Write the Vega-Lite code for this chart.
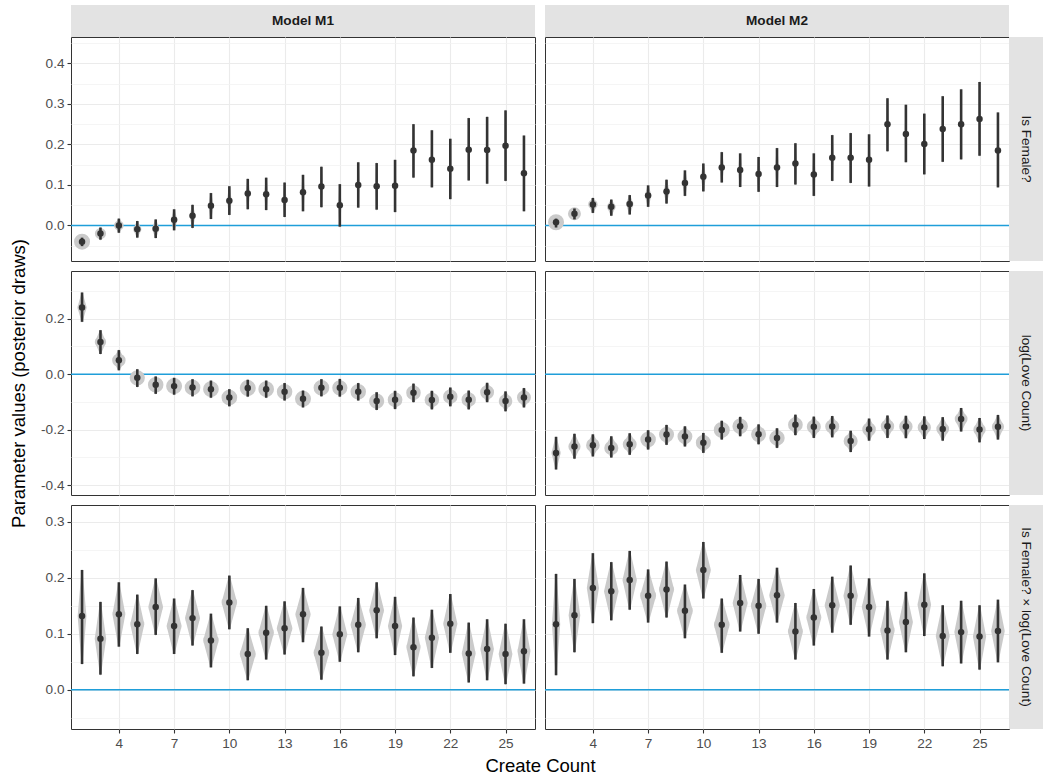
{
"$schema": "https://vega.github.io/schema/vega-lite/v6.json",
"padding": {"left": 9, "top": 5, "right": 0, "bottom": 0},
"background": "white",
"config": {
  "font": "Liberation Sans",
  "view": {"stroke": "#333333", "strokeWidth": 1},
  "axis": {"labelFont": "Liberation Sans", "labelFontSize": 13.6, "labelColor": "#4d4d4d", "tickColor": "#333333", "tickSize": 4, "tickWidth": 1.1, "labelPadding": 3, "domain": false, "gridColor": "#ebebeb", "gridWidth": 1.1, "titleFont": "Liberation Sans", "titleFontSize": 18.5, "titleFontWeight": "normal", "titleColor": "#000000"}
},
"datasets": {
"d": [
{"m":"M1","p":1,"x":2,"est":-0.040,"lo":-0.051,"hi":-0.030,"dens":1.0},
{"m":"M1","p":1,"x":3,"est":-0.020,"lo":-0.035,"hi":-0.005,"dens":0.70},
{"m":"M1","p":1,"x":4,"est":0.000,"lo":-0.018,"hi":0.017,"dens":0.60},
{"m":"M1","p":1,"x":5,"est":-0.009,"lo":-0.030,"hi":0.011,"dens":0.51},
{"m":"M1","p":1,"x":6,"est":-0.008,"lo":-0.031,"hi":0.015,"dens":0.46},
{"m":"M1","p":1,"x":7,"est":0.014,"lo":-0.012,"hi":0.040,"dens":0.40},
{"m":"M1","p":1,"x":8,"est":0.024,"lo":-0.006,"hi":0.051,"dens":0.37},
{"m":"M1","p":1,"x":9,"est":0.049,"lo":0.016,"hi":0.080,"dens":0.33},
{"m":"M1","p":1,"x":10,"est":0.061,"lo":0.026,"hi":0.097,"dens":0.30},
{"m":"M1","p":1,"x":11,"est":0.079,"lo":0.040,"hi":0.115,"dens":0.28},
{"m":"M1","p":1,"x":12,"est":0.077,"lo":0.038,"hi":0.118,"dens":0.26},
{"m":"M1","p":1,"x":13,"est":0.063,"lo":0.021,"hi":0.106,"dens":0.25},
{"m":"M1","p":1,"x":14,"est":0.082,"lo":0.035,"hi":0.125,"dens":0.23},
{"m":"M1","p":1,"x":15,"est":0.096,"lo":0.045,"hi":0.145,"dens":0.21},
{"m":"M1","p":1,"x":16,"est":0.050,"lo":-0.003,"hi":0.102,"dens":0.20},
{"m":"M1","p":1,"x":17,"est":0.100,"lo":0.044,"hi":0.156,"dens":0.19},
{"m":"M1","p":1,"x":18,"est":0.097,"lo":0.039,"hi":0.154,"dens":0.18},
{"m":"M1","p":1,"x":19,"est":0.098,"lo":0.033,"hi":0.162,"dens":0.16},
{"m":"M1","p":1,"x":20,"est":0.185,"lo":0.118,"hi":0.250,"dens":0.16},
{"m":"M1","p":1,"x":21,"est":0.162,"lo":0.094,"hi":0.235,"dens":0.15},
{"m":"M1","p":1,"x":22,"est":0.140,"lo":0.065,"hi":0.214,"dens":0.14},
{"m":"M1","p":1,"x":23,"est":0.187,"lo":0.111,"hi":0.265,"dens":0.14},
{"m":"M1","p":1,"x":24,"est":0.186,"lo":0.103,"hi":0.268,"dens":0.13},
{"m":"M1","p":1,"x":25,"est":0.197,"lo":0.110,"hi":0.284,"dens":0.12},
{"m":"M1","p":1,"x":26,"est":0.129,"lo":0.035,"hi":0.222,"dens":0.11},
{"m":"M2","p":1,"x":2,"est":0.008,"lo":-0.005,"hi":0.017,"dens":1.0},
{"m":"M2","p":1,"x":3,"est":0.029,"lo":0.015,"hi":0.042,"dens":0.81},
{"m":"M2","p":1,"x":4,"est":0.052,"lo":0.031,"hi":0.068,"dens":0.59},
{"m":"M2","p":1,"x":5,"est":0.046,"lo":0.024,"hi":0.064,"dens":0.55},
{"m":"M2","p":1,"x":6,"est":0.053,"lo":0.027,"hi":0.075,"dens":0.46},
{"m":"M2","p":1,"x":7,"est":0.074,"lo":0.046,"hi":0.099,"dens":0.42},
{"m":"M2","p":1,"x":8,"est":0.084,"lo":0.054,"hi":0.113,"dens":0.37},
{"m":"M2","p":1,"x":9,"est":0.105,"lo":0.073,"hi":0.136,"dens":0.35},
{"m":"M2","p":1,"x":10,"est":0.120,"lo":0.084,"hi":0.153,"dens":0.32},
{"m":"M2","p":1,"x":11,"est":0.143,"lo":0.106,"hi":0.181,"dens":0.29},
{"m":"M2","p":1,"x":12,"est":0.137,"lo":0.095,"hi":0.178,"dens":0.27},
{"m":"M2","p":1,"x":13,"est":0.127,"lo":0.083,"hi":0.169,"dens":0.26},
{"m":"M2","p":1,"x":14,"est":0.143,"lo":0.095,"hi":0.191,"dens":0.23},
{"m":"M2","p":1,"x":15,"est":0.153,"lo":0.101,"hi":0.203,"dens":0.22},
{"m":"M2","p":1,"x":16,"est":0.126,"lo":0.073,"hi":0.178,"dens":0.21},
{"m":"M2","p":1,"x":17,"est":0.167,"lo":0.110,"hi":0.223,"dens":0.19},
{"m":"M2","p":1,"x":18,"est":0.167,"lo":0.105,"hi":0.228,"dens":0.18},
{"m":"M2","p":1,"x":19,"est":0.162,"lo":0.096,"hi":0.225,"dens":0.17},
{"m":"M2","p":1,"x":20,"est":0.250,"lo":0.183,"hi":0.314,"dens":0.17},
{"m":"M2","p":1,"x":21,"est":0.226,"lo":0.156,"hi":0.298,"dens":0.15},
{"m":"M2","p":1,"x":22,"est":0.201,"lo":0.126,"hi":0.276,"dens":0.15},
{"m":"M2","p":1,"x":23,"est":0.238,"lo":0.157,"hi":0.319,"dens":0.14},
{"m":"M2","p":1,"x":24,"est":0.250,"lo":0.163,"hi":0.336,"dens":0.13},
{"m":"M2","p":1,"x":25,"est":0.263,"lo":0.172,"hi":0.354,"dens":0.12},
{"m":"M2","p":1,"x":26,"est":0.185,"lo":0.094,"hi":0.279,"dens":0.12},
{"m":"M1","p":2,"x":2,"est":0.241,"lo":0.189,"hi":0.295,"dens":0.58},
{"m":"M1","p":2,"x":3,"est":0.116,"lo":0.073,"hi":0.159,"dens":0.71},
{"m":"M1","p":2,"x":4,"est":0.050,"lo":0.014,"hi":0.087,"dens":0.84},
{"m":"M1","p":2,"x":5,"est":-0.013,"lo":-0.046,"hi":0.018,"dens":0.95},
{"m":"M1","p":2,"x":6,"est":-0.038,"lo":-0.071,"hi":-0.008,"dens":0.97},
{"m":"M1","p":2,"x":7,"est":-0.043,"lo":-0.074,"hi":-0.013,"dens":1.0},
{"m":"M1","p":2,"x":8,"est":-0.048,"lo":-0.080,"hi":-0.018,"dens":0.98},
{"m":"M1","p":2,"x":9,"est":-0.054,"lo":-0.085,"hi":-0.023,"dens":0.98},
{"m":"M1","p":2,"x":10,"est":-0.084,"lo":-0.116,"hi":-0.054,"dens":0.98},
{"m":"M1","p":2,"x":11,"est":-0.050,"lo":-0.081,"hi":-0.020,"dens":1.0},
{"m":"M1","p":2,"x":12,"est":-0.054,"lo":-0.085,"hi":-0.023,"dens":0.98},
{"m":"M1","p":2,"x":13,"est":-0.063,"lo":-0.095,"hi":-0.032,"dens":0.97},
{"m":"M1","p":2,"x":14,"est":-0.089,"lo":-0.120,"hi":-0.059,"dens":1.0},
{"m":"M1","p":2,"x":15,"est":-0.049,"lo":-0.080,"hi":-0.018,"dens":0.98},
{"m":"M1","p":2,"x":16,"est":-0.049,"lo":-0.081,"hi":-0.017,"dens":0.95},
{"m":"M1","p":2,"x":17,"est":-0.063,"lo":-0.095,"hi":-0.032,"dens":0.97},
{"m":"M1","p":2,"x":18,"est":-0.097,"lo":-0.129,"hi":-0.065,"dens":0.95},
{"m":"M1","p":2,"x":19,"est":-0.092,"lo":-0.126,"hi":-0.060,"dens":0.92},
{"m":"M1","p":2,"x":20,"est":-0.067,"lo":-0.101,"hi":-0.034,"dens":0.91},
{"m":"M1","p":2,"x":21,"est":-0.093,"lo":-0.127,"hi":-0.060,"dens":0.91},
{"m":"M1","p":2,"x":22,"est":-0.081,"lo":-0.116,"hi":-0.048,"dens":0.90},
{"m":"M1","p":2,"x":23,"est":-0.092,"lo":-0.127,"hi":-0.059,"dens":0.90},
{"m":"M1","p":2,"x":24,"est":-0.065,"lo":-0.101,"hi":-0.031,"dens":0.87},
{"m":"M1","p":2,"x":25,"est":-0.097,"lo":-0.134,"hi":-0.062,"dens":0.85},
{"m":"M1","p":2,"x":26,"est":-0.084,"lo":-0.120,"hi":-0.050,"dens":0.87},
{"m":"M2","p":2,"x":2,"est":-0.284,"lo":-0.344,"hi":-0.226,"dens":0.58},
{"m":"M2","p":2,"x":3,"est":-0.261,"lo":-0.305,"hi":-0.215,"dens":0.76},
{"m":"M2","p":2,"x":4,"est":-0.256,"lo":-0.297,"hi":-0.217,"dens":0.85},
{"m":"M2","p":2,"x":5,"est":-0.266,"lo":-0.301,"hi":-0.224,"dens":0.88},
{"m":"M2","p":2,"x":6,"est":-0.253,"lo":-0.291,"hi":-0.213,"dens":0.87},
{"m":"M2","p":2,"x":7,"est":-0.236,"lo":-0.272,"hi":-0.202,"dens":0.97},
{"m":"M2","p":2,"x":8,"est":-0.218,"lo":-0.255,"hi":-0.183,"dens":0.94},
{"m":"M2","p":2,"x":9,"est":-0.225,"lo":-0.261,"hi":-0.188,"dens":0.93},
{"m":"M2","p":2,"x":10,"est":-0.247,"lo":-0.284,"hi":-0.212,"dens":0.94},
{"m":"M2","p":2,"x":11,"est":-0.201,"lo":-0.236,"hi":-0.168,"dens":1.0},
{"m":"M2","p":2,"x":12,"est":-0.188,"lo":-0.224,"hi":-0.154,"dens":0.97},
{"m":"M2","p":2,"x":13,"est":-0.217,"lo":-0.253,"hi":-0.181,"dens":0.94},
{"m":"M2","p":2,"x":14,"est":-0.230,"lo":-0.266,"hi":-0.195,"dens":0.96},
{"m":"M2","p":2,"x":15,"est":-0.182,"lo":-0.220,"hi":-0.146,"dens":0.92},
{"m":"M2","p":2,"x":16,"est":-0.190,"lo":-0.230,"hi":-0.153,"dens":0.88},
{"m":"M2","p":2,"x":17,"est":-0.189,"lo":-0.228,"hi":-0.151,"dens":0.88},
{"m":"M2","p":2,"x":18,"est":-0.241,"lo":-0.281,"hi":-0.204,"dens":0.88},
{"m":"M2","p":2,"x":19,"est":-0.199,"lo":-0.240,"hi":-0.160,"dens":0.85},
{"m":"M2","p":2,"x":20,"est":-0.188,"lo":-0.230,"hi":-0.149,"dens":0.84},
{"m":"M2","p":2,"x":21,"est":-0.189,"lo":-0.231,"hi":-0.150,"dens":0.84},
{"m":"M2","p":2,"x":22,"est":-0.192,"lo":-0.234,"hi":-0.152,"dens":0.83},
{"m":"M2","p":2,"x":23,"est":-0.198,"lo":-0.240,"hi":-0.155,"dens":0.80},
{"m":"M2","p":2,"x":24,"est":-0.162,"lo":-0.207,"hi":-0.122,"dens":0.80},
{"m":"M2","p":2,"x":25,"est":-0.200,"lo":-0.246,"hi":-0.158,"dens":0.77},
{"m":"M2","p":2,"x":26,"est":-0.190,"lo":-0.236,"hi":-0.147,"dens":0.76},
{"m":"M1","p":3,"x":2,"est":0.132,"lo":0.046,"hi":0.214,"dens":0.55},
{"m":"M1","p":3,"x":3,"est":0.091,"lo":0.027,"hi":0.157,"dens":0.72},
{"m":"M1","p":3,"x":4,"est":0.135,"lo":0.077,"hi":0.192,"dens":0.81},
{"m":"M1","p":3,"x":5,"est":0.117,"lo":0.064,"hi":0.170,"dens":0.88},
{"m":"M1","p":3,"x":6,"est":0.148,"lo":0.098,"hi":0.199,"dens":0.92},
{"m":"M1","p":3,"x":7,"est":0.114,"lo":0.064,"hi":0.163,"dens":0.94},
{"m":"M1","p":3,"x":8,"est":0.128,"lo":0.079,"hi":0.178,"dens":0.94},
{"m":"M1","p":3,"x":9,"est":0.088,"lo":0.040,"hi":0.136,"dens":0.97},
{"m":"M1","p":3,"x":10,"est":0.156,"lo":0.108,"hi":0.204,"dens":0.97},
{"m":"M1","p":3,"x":11,"est":0.064,"lo":0.017,"hi":0.110,"dens":1.0},
{"m":"M1","p":3,"x":12,"est":0.102,"lo":0.054,"hi":0.150,"dens":0.97},
{"m":"M1","p":3,"x":13,"est":0.110,"lo":0.063,"hi":0.158,"dens":0.98},
{"m":"M1","p":3,"x":14,"est":0.135,"lo":0.085,"hi":0.182,"dens":0.96},
{"m":"M1","p":3,"x":15,"est":0.066,"lo":0.018,"hi":0.113,"dens":0.98},
{"m":"M1","p":3,"x":16,"est":0.099,"lo":0.050,"hi":0.149,"dens":0.94},
{"m":"M1","p":3,"x":17,"est":0.116,"lo":0.067,"hi":0.164,"dens":0.96},
{"m":"M1","p":3,"x":18,"est":0.142,"lo":0.092,"hi":0.192,"dens":0.93},
{"m":"M1","p":3,"x":19,"est":0.114,"lo":0.062,"hi":0.166,"dens":0.89},
{"m":"M1","p":3,"x":20,"est":0.076,"lo":0.024,"hi":0.129,"dens":0.89},
{"m":"M1","p":3,"x":21,"est":0.093,"lo":0.039,"hi":0.143,"dens":0.89},
{"m":"M1","p":3,"x":22,"est":0.118,"lo":0.066,"hi":0.171,"dens":0.89},
{"m":"M1","p":3,"x":23,"est":0.065,"lo":0.013,"hi":0.120,"dens":0.87},
{"m":"M1","p":3,"x":24,"est":0.073,"lo":0.017,"hi":0.126,"dens":0.85},
{"m":"M1","p":3,"x":25,"est":0.064,"lo":0.010,"hi":0.118,"dens":0.86},
{"m":"M1","p":3,"x":26,"est":0.069,"lo":0.011,"hi":0.126,"dens":0.81},
{"m":"M2","p":3,"x":2,"est":0.117,"lo":0.026,"hi":0.207,"dens":0.52},
{"m":"M2","p":3,"x":3,"est":0.133,"lo":0.067,"hi":0.198,"dens":0.73},
{"m":"M2","p":3,"x":4,"est":0.182,"lo":0.119,"hi":0.244,"dens":0.76},
{"m":"M2","p":3,"x":5,"est":0.176,"lo":0.124,"hi":0.228,"dens":0.91},
{"m":"M2","p":3,"x":6,"est":0.196,"lo":0.143,"hi":0.248,"dens":0.90},
{"m":"M2","p":3,"x":7,"est":0.168,"lo":0.120,"hi":0.215,"dens":1.0},
{"m":"M2","p":3,"x":8,"est":0.179,"lo":0.129,"hi":0.229,"dens":0.95},
{"m":"M2","p":3,"x":9,"est":0.141,"lo":0.092,"hi":0.188,"dens":0.99},
{"m":"M2","p":3,"x":10,"est":0.214,"lo":0.163,"hi":0.264,"dens":0.94},
{"m":"M2","p":3,"x":11,"est":0.116,"lo":0.066,"hi":0.163,"dens":0.98},
{"m":"M2","p":3,"x":12,"est":0.155,"lo":0.104,"hi":0.205,"dens":0.94},
{"m":"M2","p":3,"x":13,"est":0.150,"lo":0.100,"hi":0.198,"dens":0.97},
{"m":"M2","p":3,"x":14,"est":0.169,"lo":0.120,"hi":0.218,"dens":0.97},
{"m":"M2","p":3,"x":15,"est":0.104,"lo":0.054,"hi":0.155,"dens":0.94},
{"m":"M2","p":3,"x":16,"est":0.129,"lo":0.079,"hi":0.180,"dens":0.94},
{"m":"M2","p":3,"x":17,"est":0.151,"lo":0.102,"hi":0.202,"dens":0.95},
{"m":"M2","p":3,"x":18,"est":0.168,"lo":0.116,"hi":0.222,"dens":0.90},
{"m":"M2","p":3,"x":19,"est":0.148,"lo":0.095,"hi":0.199,"dens":0.91},
{"m":"M2","p":3,"x":20,"est":0.106,"lo":0.054,"hi":0.159,"dens":0.90},
{"m":"M2","p":3,"x":21,"est":0.121,"lo":0.067,"hi":0.175,"dens":0.88},
{"m":"M2","p":3,"x":22,"est":0.152,"lo":0.096,"hi":0.208,"dens":0.85},
{"m":"M2","p":3,"x":23,"est":0.096,"lo":0.042,"hi":0.151,"dens":0.87},
{"m":"M2","p":3,"x":24,"est":0.103,"lo":0.047,"hi":0.159,"dens":0.85},
{"m":"M2","p":3,"x":25,"est":0.095,"lo":0.036,"hi":0.151,"dens":0.83},
{"m":"M2","p":3,"x":26,"est":0.105,"lo":0.049,"hi":0.161,"dens":0.85}
]
},
"columns": 4,
"spacing": 0,
"bounds": "flush",
"align": "each",
"concat": [
  {"width": 464, "height": 32, "view": {"fill": "#e3e3e3", "stroke": null}, "data": {"values": [{"lab": "Model M1"}]}, "mark": {"type": "text", "fontSize": 13.6, "fontWeight": "bold", "color": "#1a1a1a"}, "encoding": {"text": {"field": "lab"}}},
  {"width": 10, "height": 10, "view": {"stroke": null}, "data": {"values": []}, "mark": "point"},
  {"width": 464, "height": 32, "view": {"fill": "#e3e3e3", "stroke": null}, "data": {"values": [{"lab": "Model M2"}]}, "mark": {"type": "text", "fontSize": 13.6, "fontWeight": "bold", "color": "#1a1a1a"}, "encoding": {"text": {"field": "lab"}}},
  {"width": 10, "height": 10, "view": {"stroke": null}, "data": {"values": []}, "mark": "point"},

  {"width": 464, "height": 224, "data": {"name": "d"}, "transform": [{"filter": "datum.m == 'M1' && datum.p == 1"}],
   "resolve": {"axis": {"y": "independent", "x": "independent"}},
   "layer": [
    {"data": {"values": [{"ref": 0}]}, "mark": {"type": "rule", "color": "#1f9ed9", "strokeWidth": 1.6}, "encoding": {"y": {"field": "ref", "type": "quantitative", "scale": {"domain": [-0.0876, 0.465], "nice": false, "zero": false}, "axis": {"orient": "right", "values": [-0.05, 0.05, 0.15, 0.25, 0.35, 0.45], "labels": false, "ticks": false, "grid": true, "gridColor": "#f2f2f2", "gridWidth": 0.8, "title": null}}}},
    {"transform": [{"fold": ["lo", "est", "hi"], "as": ["k", "v"]}], "mark": {"type": "trail", "color": "#cacaca"}, "encoding": {"x": {"field": "x", "type": "quantitative", "axis": null}, "y": {"field": "v", "type": "quantitative", "axis": null}, "size": {"condition": {"test": "datum.k == 'est'", "field": "dens", "type": "quantitative", "scale": {"domain": [0, 1], "range": [0, 16]}, "legend": null}, "value": 0}, "detail": {"field": "x"}, "order": {"field": "v", "type": "quantitative"}}},
    {"mark": {"type": "rule", "color": "#333333", "strokeWidth": 2.6}, "encoding": {"x": {"field": "x", "type": "quantitative", "scale": {"domain": [1.4, 26.6], "nice": false, "zero": false}, "axis": {"values": [4, 7, 10, 13, 16, 19, 22, 25], "labels": false, "ticks": false, "grid": true, "title": null}}, "y": {"field": "lo", "type": "quantitative", "axis": {"orient": "left", "values": [0, 0.1, 0.2, 0.3, 0.4], "labelExpr": "replace(format(datum.value,'.1f'),'\u2212','-')", "grid": true, "title": null}}, "y2": {"field": "hi"}}},
    {"mark": {"type": "point", "filled": true, "opacity": 1, "color": "#333333", "size": 42}, "encoding": {"x": {"field": "x", "type": "quantitative", "axis": null}, "y": {"field": "est", "type": "quantitative", "axis": null}}}
   ]},
  {"width": 10, "height": 10, "view": {"stroke": null}, "data": {"values": []}, "mark": "point"},
  {"width": 464, "height": 224, "data": {"name": "d"}, "transform": [{"filter": "datum.m == 'M2' && datum.p == 1"}],
   "resolve": {"axis": {"y": "independent", "x": "independent"}},
   "layer": [
    {"data": {"values": [{"ref": 0}]}, "mark": {"type": "rule", "color": "#1f9ed9", "strokeWidth": 1.6}, "encoding": {"y": {"field": "ref", "type": "quantitative", "scale": {"domain": [-0.0876, 0.465], "nice": false, "zero": false}, "axis": {"orient": "right", "values": [-0.05, 0.05, 0.15, 0.25, 0.35, 0.45], "labels": false, "ticks": false, "grid": true, "gridColor": "#f2f2f2", "gridWidth": 0.8, "title": null}}}},
    {"transform": [{"fold": ["lo", "est", "hi"], "as": ["k", "v"]}], "mark": {"type": "trail", "color": "#cacaca"}, "encoding": {"x": {"field": "x", "type": "quantitative", "axis": null}, "y": {"field": "v", "type": "quantitative", "axis": null}, "size": {"condition": {"test": "datum.k == 'est'", "field": "dens", "type": "quantitative", "scale": {"domain": [0, 1], "range": [0, 16]}, "legend": null}, "value": 0}, "detail": {"field": "x"}, "order": {"field": "v", "type": "quantitative"}}},
    {"mark": {"type": "rule", "color": "#333333", "strokeWidth": 2.6}, "encoding": {"x": {"field": "x", "type": "quantitative", "scale": {"domain": [1.4, 26.6], "nice": false, "zero": false}, "axis": {"values": [4, 7, 10, 13, 16, 19, 22, 25], "labels": false, "ticks": false, "grid": true, "title": null}}, "y": {"field": "lo", "type": "quantitative", "axis": {"orient": "left", "values": [0, 0.1, 0.2, 0.3, 0.4], "labels": false, "ticks": false, "grid": true, "title": null}}, "y2": {"field": "hi"}}},
    {"mark": {"type": "point", "filled": true, "opacity": 1, "color": "#333333", "size": 42}, "encoding": {"x": {"field": "x", "type": "quantitative", "axis": null}, "y": {"field": "est", "type": "quantitative", "axis": null}}}
   ]},
  {"width": 34, "height": 224, "view": {"fill": "#e3e3e3", "stroke": null}, "data": {"values": [{"lab": "Is Female?"}]}, "mark": {"type": "text", "fontSize": 13.6, "angle": 90, "color": "#1a1a1a"}, "encoding": {"text": {"field": "lab"}}},

  {"width": 10, "height": 10, "view": {"stroke": null}, "data": {"values": []}, "mark": "point"},
  {"width": 10, "height": 10, "view": {"stroke": null}, "data": {"values": []}, "mark": "point"},
  {"width": 10, "height": 10, "view": {"stroke": null}, "data": {"values": []}, "mark": "point"},
  {"width": 10, "height": 10, "view": {"stroke": null}, "data": {"values": []}, "mark": "point"},

  {"width": 464, "height": 224, "data": {"name": "d"}, "transform": [{"filter": "datum.m == 'M1' && datum.p == 2"}],
   "resolve": {"axis": {"y": "independent", "x": "independent"}},
   "layer": [
    {"data": {"values": [{"ref": 0}]}, "mark": {"type": "rule", "color": "#1f9ed9", "strokeWidth": 1.6}, "encoding": {"y": {"field": "ref", "type": "quantitative", "scale": {"domain": [-0.436, 0.3725], "nice": false, "zero": false}, "axis": {"orient": "right", "values": [-0.3, -0.1, 0.1, 0.3], "labels": false, "ticks": false, "grid": true, "gridColor": "#f2f2f2", "gridWidth": 0.8, "title": null}}}},
    {"transform": [{"fold": ["lo", "est", "hi"], "as": ["k", "v"]}], "mark": {"type": "trail", "color": "#cacaca"}, "encoding": {"x": {"field": "x", "type": "quantitative", "axis": null}, "y": {"field": "v", "type": "quantitative", "axis": null}, "size": {"condition": {"test": "datum.k == 'est'", "field": "dens", "type": "quantitative", "scale": {"domain": [0, 1], "range": [0, 16]}, "legend": null}, "value": 0}, "detail": {"field": "x"}, "order": {"field": "v", "type": "quantitative"}}},
    {"mark": {"type": "rule", "color": "#333333", "strokeWidth": 2.6}, "encoding": {"x": {"field": "x", "type": "quantitative", "scale": {"domain": [1.4, 26.6], "nice": false, "zero": false}, "axis": {"values": [4, 7, 10, 13, 16, 19, 22, 25], "labels": false, "ticks": false, "grid": true, "title": null}}, "y": {"field": "lo", "type": "quantitative", "axis": {"orient": "left", "values": [-0.4, -0.2, 0, 0.2], "labelExpr": "replace(format(datum.value,'.1f'),'\u2212','-')", "grid": true, "title": "Parameter values (posterior draws)", "titlePadding": 12}}, "y2": {"field": "hi"}}},
    {"mark": {"type": "point", "filled": true, "opacity": 1, "color": "#333333", "size": 42}, "encoding": {"x": {"field": "x", "type": "quantitative", "axis": null}, "y": {"field": "est", "type": "quantitative", "axis": null}}}
   ]},
  {"width": 10, "height": 10, "view": {"stroke": null}, "data": {"values": []}, "mark": "point"},
  {"width": 464, "height": 224, "data": {"name": "d"}, "transform": [{"filter": "datum.m == 'M2' && datum.p == 2"}],
   "resolve": {"axis": {"y": "independent", "x": "independent"}},
   "layer": [
    {"data": {"values": [{"ref": 0}]}, "mark": {"type": "rule", "color": "#1f9ed9", "strokeWidth": 1.6}, "encoding": {"y": {"field": "ref", "type": "quantitative", "scale": {"domain": [-0.436, 0.3725], "nice": false, "zero": false}, "axis": {"orient": "right", "values": [-0.3, -0.1, 0.1, 0.3], "labels": false, "ticks": false, "grid": true, "gridColor": "#f2f2f2", "gridWidth": 0.8, "title": null}}}},
    {"transform": [{"fold": ["lo", "est", "hi"], "as": ["k", "v"]}], "mark": {"type": "trail", "color": "#cacaca"}, "encoding": {"x": {"field": "x", "type": "quantitative", "axis": null}, "y": {"field": "v", "type": "quantitative", "axis": null}, "size": {"condition": {"test": "datum.k == 'est'", "field": "dens", "type": "quantitative", "scale": {"domain": [0, 1], "range": [0, 16]}, "legend": null}, "value": 0}, "detail": {"field": "x"}, "order": {"field": "v", "type": "quantitative"}}},
    {"mark": {"type": "rule", "color": "#333333", "strokeWidth": 2.6}, "encoding": {"x": {"field": "x", "type": "quantitative", "scale": {"domain": [1.4, 26.6], "nice": false, "zero": false}, "axis": {"values": [4, 7, 10, 13, 16, 19, 22, 25], "labels": false, "ticks": false, "grid": true, "title": null}}, "y": {"field": "lo", "type": "quantitative", "axis": {"orient": "left", "values": [-0.4, -0.2, 0, 0.2], "labels": false, "ticks": false, "grid": true, "title": null}}, "y2": {"field": "hi"}}},
    {"mark": {"type": "point", "filled": true, "opacity": 1, "color": "#333333", "size": 42}, "encoding": {"x": {"field": "x", "type": "quantitative", "axis": null}, "y": {"field": "est", "type": "quantitative", "axis": null}}}
   ]},
  {"width": 34, "height": 224, "view": {"fill": "#e3e3e3", "stroke": null}, "data": {"values": [{"lab": "log(Love Count)"}]}, "mark": {"type": "text", "fontSize": 13.6, "angle": 90, "color": "#1a1a1a"}, "encoding": {"text": {"field": "lab"}}},

  {"width": 10, "height": 10, "view": {"stroke": null}, "data": {"values": []}, "mark": "point"},
  {"width": 10, "height": 10, "view": {"stroke": null}, "data": {"values": []}, "mark": "point"},
  {"width": 10, "height": 10, "view": {"stroke": null}, "data": {"values": []}, "mark": "point"},
  {"width": 10, "height": 10, "view": {"stroke": null}, "data": {"values": []}, "mark": "point"},

  {"width": 464, "height": 224, "data": {"name": "d"}, "transform": [{"filter": "datum.m == 'M1' && datum.p == 3"}],
   "resolve": {"axis": {"y": "independent", "x": "independent"}},
   "layer": [
    {"data": {"values": [{"ref": 0}]}, "mark": {"type": "rule", "color": "#1f9ed9", "strokeWidth": 1.6}, "encoding": {"y": {"field": "ref", "type": "quantitative", "scale": {"domain": [-0.07, 0.33], "nice": false, "zero": false}, "axis": {"orient": "right", "values": [-0.05, 0.05, 0.15, 0.25], "labels": false, "ticks": false, "grid": true, "gridColor": "#f2f2f2", "gridWidth": 0.8, "title": null}}}},
    {"transform": [{"fold": ["lo", "est", "hi"], "as": ["k", "v"]}], "mark": {"type": "trail", "color": "#cacaca"}, "encoding": {"x": {"field": "x", "type": "quantitative", "axis": null}, "y": {"field": "v", "type": "quantitative", "axis": null}, "size": {"condition": {"test": "datum.k == 'est'", "field": "dens", "type": "quantitative", "scale": {"domain": [0, 1], "range": [0, 16]}, "legend": null}, "value": 0}, "detail": {"field": "x"}, "order": {"field": "v", "type": "quantitative"}}},
    {"mark": {"type": "rule", "color": "#333333", "strokeWidth": 2.6}, "encoding": {"x": {"field": "x", "type": "quantitative", "scale": {"domain": [1.4, 26.6], "nice": false, "zero": false}, "axis": {"values": [4, 7, 10, 13, 16, 19, 22, 25], "grid": true, "format": "d", "title": "Create Count", "titleX": 469, "titlePadding": 7}}, "y": {"field": "lo", "type": "quantitative", "axis": {"orient": "left", "values": [0, 0.1, 0.2, 0.3], "labelExpr": "replace(format(datum.value,'.1f'),'\u2212','-')", "grid": true, "title": null}}, "y2": {"field": "hi"}}},
    {"mark": {"type": "point", "filled": true, "opacity": 1, "color": "#333333", "size": 42}, "encoding": {"x": {"field": "x", "type": "quantitative", "axis": null}, "y": {"field": "est", "type": "quantitative", "axis": null}}}
   ]},
  {"width": 10, "height": 10, "view": {"stroke": null}, "data": {"values": []}, "mark": "point"},
  {"width": 464, "height": 224, "data": {"name": "d"}, "transform": [{"filter": "datum.m == 'M2' && datum.p == 3"}],
   "resolve": {"axis": {"y": "independent", "x": "independent"}},
   "layer": [
    {"data": {"values": [{"ref": 0}]}, "mark": {"type": "rule", "color": "#1f9ed9", "strokeWidth": 1.6}, "encoding": {"y": {"field": "ref", "type": "quantitative", "scale": {"domain": [-0.07, 0.33], "nice": false, "zero": false}, "axis": {"orient": "right", "values": [-0.05, 0.05, 0.15, 0.25], "labels": false, "ticks": false, "grid": true, "gridColor": "#f2f2f2", "gridWidth": 0.8, "title": null}}}},
    {"transform": [{"fold": ["lo", "est", "hi"], "as": ["k", "v"]}], "mark": {"type": "trail", "color": "#cacaca"}, "encoding": {"x": {"field": "x", "type": "quantitative", "axis": null}, "y": {"field": "v", "type": "quantitative", "axis": null}, "size": {"condition": {"test": "datum.k == 'est'", "field": "dens", "type": "quantitative", "scale": {"domain": [0, 1], "range": [0, 16]}, "legend": null}, "value": 0}, "detail": {"field": "x"}, "order": {"field": "v", "type": "quantitative"}}},
    {"mark": {"type": "rule", "color": "#333333", "strokeWidth": 2.6}, "encoding": {"x": {"field": "x", "type": "quantitative", "scale": {"domain": [1.4, 26.6], "nice": false, "zero": false}, "axis": {"values": [4, 7, 10, 13, 16, 19, 22, 25], "grid": true, "format": "d", "title": null}}, "y": {"field": "lo", "type": "quantitative", "axis": {"orient": "left", "values": [0, 0.1, 0.2, 0.3], "labels": false, "ticks": false, "grid": true, "title": null}}, "y2": {"field": "hi"}}},
    {"mark": {"type": "point", "filled": true, "opacity": 1, "color": "#333333", "size": 42}, "encoding": {"x": {"field": "x", "type": "quantitative", "axis": null}, "y": {"field": "est", "type": "quantitative", "axis": null}}}
   ]},
  {"width": 34, "height": 224, "view": {"fill": "#e3e3e3", "stroke": null}, "data": {"values": [{"lab": "Is Female? × log(Love Count)"}]}, "mark": {"type": "text", "fontSize": 13.6, "angle": 90, "color": "#1a1a1a"}, "encoding": {"text": {"field": "lab"}}}
]
}
